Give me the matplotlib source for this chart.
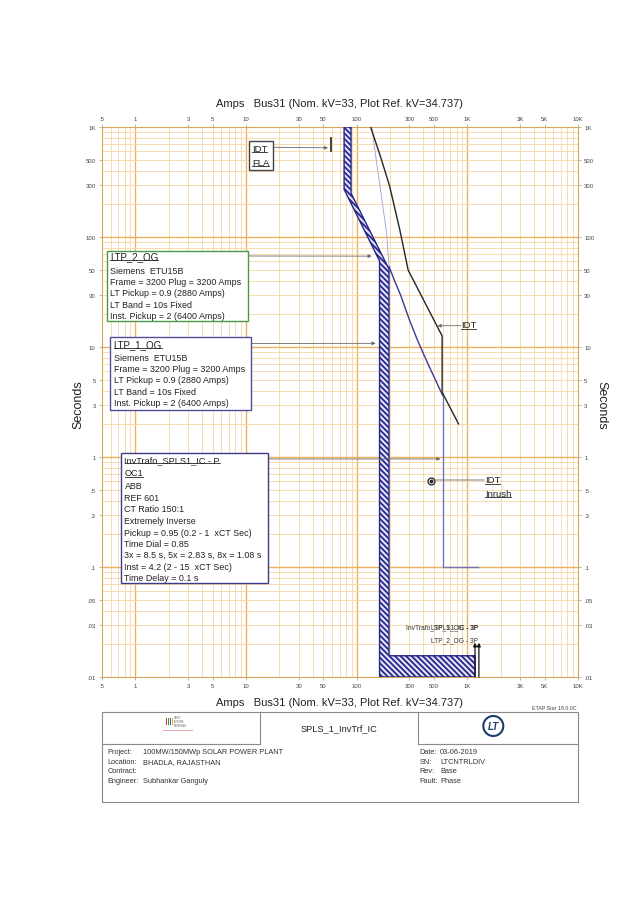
import matplotlib
matplotlib.use('Agg')
import matplotlib.pyplot as plt
from matplotlib.patches import Rectangle, Ellipse
from matplotlib.lines import Line2D

# ---------------- data ----------------
x_tick_vals = [0.5, 1, 3, 5, 10, 30, 50, 100, 300, 500, 1000, 3000, 5000, 10000]
x_tick_labels = ['.5', '1', '3', '5', '10', '30', '50', '100', '300', '500', '1K', '3K', '5K', '10K']
y_tick_vals = [0.01, 0.03, 0.05, 0.1, 0.3, 0.5, 1, 3, 5, 10, 30, 50, 100, 300, 500, 1000]
y_tick_labels = ['.01', '.03', '.05', '.1', '.3', '.5', '1', '3', '5', '10', '30', '50', '100', '300', '500', '1K']

# LV breaker band (LTP_1_OG / LTP_2_OG, identical settings) - outline
band_amps = [77, 77, 161, 161, 1174, 1174, 196, 196, 89, 89]
band_secs = [1000, 271, 60.5, 0.01, 0.01, 0.0156, 0.0156, 51, 250, 1000]

# Relay OC1 (InvTrafo_SPLS1_IC - P) curve
relay_faint_amps = [137, 148, 161, 175, 186, 196]
relay_faint_secs = [1000, 560, 311, 170, 110, 54]
relay_amps = [196, 220, 250, 300, 350, 400, 450, 500, 550, 598, 598, 1260]
relay_secs = [54, 40, 29.5, 17.6, 11.9, 8.74, 6.73, 5.35, 4.36, 3.65, 0.1, 0.1]

# IDT damage curve
idt_amps = [133.7, 165, 198.6, 245, 292, 592, 592, 833]
idt_secs = [1000, 530, 290, 117, 50, 12.6, 3.88, 2.0]

fla_amps = 59.2
fla_secs = [603, 797]
inrush_amps = 470
inrush_secs = 0.6
fault_amps = [1174, 1272]
fault_secs = [0.01, 0.0205]

# leader arrow tips (amps, seconds)
tip_ltp2 = (136.6, 67)
tip_ltp1 = (148.6, 10.8)
tip_relay = (572, 0.96)
tip_idt = (537, 15.6)
tip_fla = (55.1, 647)

ltp2_lines = ['Siemens  ETU15B', 'Frame = 3200 Plug = 3200 Amps', 'LT Pickup = 0.9 (2880 Amps)',
              'LT Band = 10s Fixed', 'Inst. Pickup = 2 (6400 Amps)']
ltp1_lines = ltp2_lines
relay_lines = ['ABB', 'REF 601', 'CT Ratio 150:1', 'Extremely Inverse', 'Pickup = 0.95 (0.2 - 1  xCT Sec)',
               'Time Dial = 0.85', '3x = 8.5 s, 5x = 2.83 s, 8x = 1.08 s', 'Inst = 4.2 (2 - 15  xCT Sec)',
               'Time Delay = 0.1 s']
info_left_keys = ['Project:', 'Location:', 'Contract:', 'Engineer:']
info_left_vals = ['100MW/150MWp SOLAR POWER PLANT', 'BHADLA, RAJASTHAN', '', 'Subhankar Ganguly']
info_right_keys = ['Date:', 'SN:', 'Rev:', 'Fault:']
info_right_vals = ['03-06-2019', 'LTCNTRLDIV', 'Base', 'Phase']

# ---------------- figure ----------------
W, H = 638, 903
plt.rcParams['font.family'] = ['Liberation Sans', 'DejaVu Sans']
plt.rcParams['hatch.linewidth'] = 1.3
fig = plt.figure(figsize=(W / 100, H / 100), dpi=100)
fig.patch.set_facecolor('white')


def F(x, y):
    return (x / W, 1 - y / H)


ax = fig.add_axes([102 / W, 1 - 678 / H, 476 / W, 550 / H])
ax.set_xscale('log')
ax.set_yscale('log')
ax.set_xlim(0.5, 10000)
ax.set_ylim(0.01, 1000)

# grid
maj_c, min_c = '#efb25c', '#f6d6a4'
for e in range(-1, 4):
    for k in range(1, 10):
        v = k * 10 ** e
        if 0.5 < v < 10000:
            ax.axvline(v, color=maj_c if k == 1 else min_c, lw=1.0 if k == 1 else 0.6, zorder=0)
for e in range(-2, 3):
    for k in range(1, 10):
        v = k * 10 ** e
        if 0.01 < v < 1000:
            ax.axhline(v, color=maj_c if k == 1 else min_c, lw=1.0 if k == 1 else 0.6, zorder=0)

ax.set_xticks(x_tick_vals)
ax.set_xticklabels(x_tick_labels)
ax.set_yticks(y_tick_vals)
ax.set_yticklabels(y_tick_labels)
ax.minorticks_off()
ax.tick_params(which='both', top=True, right=True, labeltop=True, labelright=True,
               length=2.5, width=0.5, color='#999999', labelsize=4.3, labelcolor='#444444', pad=2)
for s in ax.spines.values():
    s.set_color('#d9a55a')
    s.set_linewidth(0.8)

# band
ax.fill(band_amps, band_secs, facecolor='#e4e4f6', edgecolor='#26268a', hatch='\\\\\\\\\\\\',
        lw=1.0, zorder=3)

# relay curve
ax.plot(relay_faint_amps, relay_faint_secs, color='#ababd6', lw=0.7, zorder=2)
ax.plot(relay_amps[:10], relay_secs[:10], color='#3a3a92', lw=1.0, zorder=4)
ax.plot(relay_amps[9:], relay_secs[9:], color='#7474b8', lw=1.0, zorder=4)

# IDT curve
ax.plot(idt_amps, idt_secs, color='#262626', lw=1.0, zorder=4)
ax.plot([fla_amps, fla_amps], fla_secs, color='#333333', lw=1.3, zorder=4)
ax.plot(inrush_amps, inrush_secs, marker='o', ms=5, mfc='white', mec='#222222', mew=0.9, zorder=5)
ax.plot(inrush_amps, inrush_secs, marker='o', ms=1.8, color='#222222', zorder=6)

# fault current arrows
for fa in fault_amps:
    ax.annotate('', xy=(fa, fault_secs[1]), xytext=(fa, fault_secs[0]),
                arrowprops=dict(arrowstyle='-|>', color='#111111', lw=0.9, mutation_scale=5,
                                shrinkA=0, shrinkB=0), zorder=6)

arr = dict(arrowstyle='-|>', color='#6a6a6a', lw=0.6, mutation_scale=5, shrinkA=0, shrinkB=0)
for tip, (px, py) in [(tip_ltp2, (248, 257)), (tip_ltp1, (251, 344.5)), (tip_relay, (268, 460)),
                      (tip_idt, (461, 326.7)), (tip_fla, (273.3, 148.3))]:
    ax.annotate('', xy=tip, xytext=(px, H - py), textcoords='figure pixels', arrowprops=arr, zorder=6)
# inrush leader
ax.annotate('', xy=(inrush_amps * 1.03, inrush_secs * 1.03), xytext=(484, H - 481),
            textcoords='figure pixels',
            arrowprops=dict(arrowstyle='-', color='#6a6a6a', lw=0.6, shrinkA=0, shrinkB=0), zorder=6)

# curve labels near bottom (overlapping as in the source plot)
fig.text(*F(478, 628), 'InvTrafo_SPLS1_IC - 3P', fontsize=4.8, ha='right', va='center', color='#333333')
fig.text(*F(478, 628), 'LTP_1_OG - 3P', fontsize=4.8, ha='right', va='center', color='#333333')
fig.text(*F(478, 641), 'LTP_2_OG - 3P', fontsize=4.8, ha='right', va='center', color='#333333')

underline = []


def box(x0, y0, x1, y1, ec, titles, lines, tx, ys, tsize=7.0, bsize=6.4):
    fig.add_artist(Rectangle(F(x0, y1), (x1 - x0) / W, (y1 - y0) / H, transform=fig.transFigure,
                             facecolor='white', edgecolor=ec, lw=1.0, zorder=5))
    i = 0
    for t in titles:
        underline.append(fig.text(*F(tx, ys[i]), t, fontsize=tsize, ha='left', va='center',
                                  color='#222222', zorder=6))
        i += 1
    for t in lines:
        fig.text(*F(tx, ys[i]), t, fontsize=bsize, ha='left', va='center', color='#222222', zorder=6)
        i += 1


box(106.7, 251.7, 247.7, 322.3, '#4a9a4a', ['LTP_2_OG'], ltp2_lines, 110,
    [257.3, 271.3, 282.6, 293.8, 305, 316.2])
box(110, 338.3, 251, 410.7, '#4d4d99', ['LTP_1_OG'], ltp1_lines, 113.5,
    [345.3, 358.3, 369.6, 380.9, 392.2, 403.5])
box(121, 454.3, 267.7, 584.3, '#3c3c8c', ['InvTrafo_SPLS1_IC - P', 'OC1'], relay_lines, 124.5,
    [460.7, 474, 486.7, 498.3, 509.7, 521.3, 533, 544.3, 555.7, 567.3, 578.7], tsize=6.6)
box(249.3, 142.3, 273.3, 170.7, '#444444', ['IDT', 'FLA'], [], 252, [149.5, 163], tsize=6.8)

underline.append(fig.text(*F(461, 326), 'IDT', fontsize=6.8, ha='left', va='center', color='#222222'))
underline.append(fig.text(*F(485, 481), 'IDT', fontsize=6.8, ha='left', va='center', color='#222222'))
underline.append(fig.text(*F(485, 494.5), 'Inrush', fontsize=6.8, ha='left', va='center', color='#222222'))

# titles
ttl = 'Amps   Bus31 (Nom. kV=33, Plot Ref. kV=34.737)'
fig.text(*F(339, 104), ttl, fontsize=8, ha='center', va='center', color='#222222')
fig.text(*F(339, 703), ttl, fontsize=8, ha='center', va='center', color='#222222')
fig.text(*F(78, 405), 'Seconds', fontsize=9, rotation=90, ha='center', va='center', color='#222222')
fig.text(*F(601, 405), 'Seconds', fontsize=9, rotation=-90, ha='center', va='center', color='#222222')
fig.text(*F(577, 709), 'ETAP Star 18.0.0C', fontsize=3.8, ha='right', va='center', color='#444444')


# title block
def fl(xs, ys, c='#8a8a8a', lw=0.8):
    fig.add_artist(Line2D([x / W for x in xs], [1 - y / H for y in ys], transform=fig.transFigure,
                          color=c, lw=lw))


fl([102, 578, 578, 102, 102], [713, 713, 803, 803, 713])
fl([260, 260], [713, 745])
fl([102, 260], [745, 745])
fl([418.3, 418.3], [713, 745])
fl([418.3, 578], [745, 745])
fig.text(*F(339, 729), 'SPLS_1_InvTrf_IC', fontsize=6.7, ha='center', va='center', color='#222222')

ys_info = [752.8, 762.3, 771.8, 781.3]
for k, v, y in zip(info_left_keys, info_left_vals, ys_info):
    fig.text(*F(107.3, y), k, fontsize=5.3, ha='left', va='center', color='#333333')
    fig.text(*F(143.3, y), v, fontsize=5.3, ha='left', va='center', color='#333333')
for k, v, y in zip(info_right_keys, info_right_vals, ys_info):
    fig.text(*F(419.3, y), k, fontsize=5.3, ha='left', va='center', color='#333333')
    fig.text(*F(440, y), v, fontsize=5.3, ha='left', va='center', color='#333333')

# Hero Future Energies logo (simplified)
for cx, col in [(165.5, '#d9262b'), (167.5, '#2a9a48'), (169.5, '#2b5fb0'), (171.5, '#f2b517')]:
    fig.add_artist(Rectangle(F(cx, 726), 1.6 / W, 7.5 / H, transform=fig.transFigure,
                             facecolor=col, edgecolor='none'))
fig.text(*F(174, 722), 'HERO\nFUTURE\nENERGIES', fontsize=1.8, ha='left', va='center',
         color='#555555', linespacing=1.0)
fig.add_artist(Rectangle(F(163, 732), 30 / W, 1.0 / H, transform=fig.transFigure,
                         facecolor='#e07070', edgecolor='none', alpha=0.6))

# L&T logo (simplified)
fig.add_artist(Ellipse(F(493.3, 727), 20 / W, 20 / H, transform=fig.transFigure,
                       facecolor='white', edgecolor='#1d3c6e', lw=1.5))
fig.text(*F(493.3, 727.5), 'LT', fontsize=7, fontweight='bold', style='italic', ha='center',
         va='center', color='#1d3c6e')

# underlines
fig.canvas.draw()
r = fig.canvas.get_renderer()
inv = fig.transFigure.inverted()
for t in underline:
    bb = t.get_window_extent(r)
    (x0, y0), (x1, _) = inv.transform([(bb.x0, bb.y0 + 1.0), (bb.x1, bb.y0 + 1.0)])
    fig.add_artist(Line2D([x0, x1], [y0, y0], transform=fig.transFigure, color='#222222', lw=0.6,
                          zorder=7))

fig.savefig('out.png', dpi=100, facecolor='white')
